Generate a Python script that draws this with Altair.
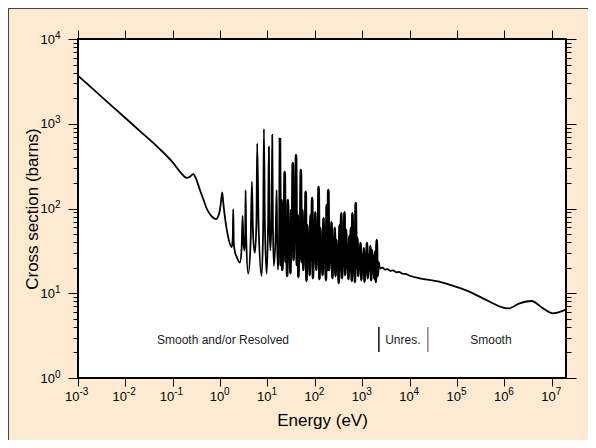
import altair as alt
import pandas as pd

# ---------------- data ----------------
# thermal / low-energy smooth part and first resolved resonances
energy_low = [0.001, 0.002, 0.005, 0.01, 0.02, 0.05, 0.1, 0.15, 0.196, 0.23,
              0.27, 0.31, 0.375, 0.45, 0.52, 0.65, 0.815, 0.92, 0.99, 1.05,
              1.107, 1.16, 1.26, 1.48, 1.75, 1.85, 1.89, 1.94, 2.05, 2.23,
              2.62, 2.85, 2.98, 3.1, 3.26, 3.38, 3.45, 3.55, 3.92, 4.4,
              4.69, 4.95, 5.42, 5.85, 6.06, 6.5, 7.51, 8.1, 8.40, 8.8,
              9.58, 10.3, 10.7, 11.1, 11.5, 12.2, 12.6, 13.0, 13.6, 15.0,
              15.6, 16.0, 16.6, 17.5]
xs_low = [3700, 2610, 1650, 1170, 825, 520, 350, 262, 230, 237,
          255, 225, 165, 125, 100, 82, 75, 82, 96, 125,
          155, 120, 80, 46, 35, 45, 98, 40, 31, 27,
          23, 35, 82, 40, 32, 50, 165, 45, 17, 40,
          207, 50, 30, 70, 588, 60, 16, 60, 868, 70,
          17, 70, 536, 60, 32, 80, 737, 70, 21, 60,
          165, 40, 19, 40]

# dense resolved-resonance region
energy_res = [18.3, 19.0, 19.8, 20.6, 21.4, 22.2, 23.1, 24.0, 25.0, 26.0,
              27.0, 28.1, 29.2, 30.4, 31.6, 32.9, 34.2, 35.5, 37.0, 38.4,
              40.0, 41.6, 43.2, 45.0, 46.8, 48.6, 50.6, 52.6, 54.7, 56.9,
              59.2, 61.5, 64.0, 66.6, 69.2, 72.0, 74.9, 77.9, 81.0, 84.2,
              87.6, 91.1, 94.7, 98.5, 102, 107, 111, 115, 120, 125,
              130, 135, 140, 146, 152, 158, 164, 171, 178, 185,
              192, 200, 208, 216, 225, 234, 243, 253, 263, 273,
              284, 296, 307, 320, 332, 346, 360, 374, 389, 404,
              421, 437, 455, 473, 492, 512, 532, 553, 576, 599,
              623, 647, 673, 700, 728, 758, 788, 819, 852, 886,
              922, 959, 997, 1040, 1080, 1120, 1170, 1210, 1260, 1310,
              1370, 1420, 1480, 1540, 1600, 1660, 1730, 1800, 1870, 1940,
              2020, 2100, 2190]
xs_res = [680, 21.5, 126, 18.8, 56, 32, 270, 23.4, 84, 16,
          126, 28, 48, 17.3, 96, 32, 344, 24.7, 64, 42.5,
          428, 21.5, 84, 15.6, 56, 26, 285, 23.4, 96, 18.8,
          42.5, 28, 157, 14, 64, 23.4, 42.5, 16.4, 84, 24.7,
          133, 15.1, 56, 23.4, 90, 18.8, 42.5, 26, 179, 14.7,
          59, 21.5, 37, 16.4, 77, 23.4, 45, 14.3, 110, 18.8,
          165, 18.8, 53, 23.4, 69, 15.1, 37, 21.5, 59, 16,
          42.5, 20, 31, 13.2, 64, 18.8, 88, 15.1, 37, 21,
          90, 16.4, 56, 20, 34, 14.7, 47, 18.8, 59, 14,
          88, 17.8, 37, 13.6, 116, 20, 45, 16, 32.4, 18.8,
          39, 14.3, 28, 17.8, 34, 13.6, 26, 17.8, 39, 15.1,
          28, 18.8, 36, 14.3, 32.4, 17.8, 27.5, 14.7, 31, 13.6,
          42.5, 16, 23.4]

# unresolved and fast smooth region
energy_high = [2400, 2700, 3000, 3400, 3900, 4500, 5200, 6000, 7000, 8200,
               10100, 16400, 41900, 83400, 186000, 419000, 1.2e6, 2.11e6, 3.73e6,
               6.58e6, 1.07e7, 2.0e7]
xs_high = [19.6, 20.1, 19.0, 19.3, 18.4, 18.6, 17.7, 17.9, 17.0, 16.9,
           16.1, 15.0, 13.7, 12.2, 10.4, 8.3, 6.63, 7.6, 8.1,
           6.63, 5.8, 6.4]

# region annotations
region_names = ["Smooth and/or Resolved", "Unres.", "Smooth"]
region_label_energy = [1.15, 7200, 5.2e5]
region_label_xs = [2.8, 2.8, 2.8]
region_bounds = [2240, 24200]
bound_low = [2.03, 2.03]
bound_high = [4.0, 4.0]

# axes
x_exponents = [-3, -2, -1, 0, 1, 2, 3, 4, 5, 6, 7]
y_exponents = [0, 1, 2, 3, 4]
x_domain = [1e-3, 2e7]
y_domain = [1, 1e4]

# ---------------- tables ----------------
df = pd.DataFrame({
    "E": energy_low + energy_res + energy_high,
    "s": xs_low + xs_res + xs_high,
})
dense_df = pd.DataFrame({"E": energy_res, "s": xs_res})
rules_df = pd.DataFrame({"E": region_bounds, "lo": bound_low, "hi": bound_high})
regions_df = pd.DataFrame({"E": region_label_energy, "s": region_label_xs, "name": region_names})

x_decades = [10.0 ** e for e in x_exponents]
y_major = [10 ** e for e in y_exponents]
y_minor = [m * 10 ** e for e in y_exponents[:-1] for m in range(2, 10)]
xlab = pd.DataFrame({"v": x_decades, "e": [str(e) for e in x_exponents]})
ylab = pd.DataFrame({"v": y_major, "e": [str(e) for e in y_exponents]})

FONT = "Liberation Sans"
xscale = alt.Scale(type="log", domain=x_domain, nice=False)
yscale = alt.Scale(type="log", domain=y_domain, nice=False)

def axis(orient, values, size, **kw):
    return alt.Axis(orient=orient, values=values, labels=False, tickSize=size,
                    tickColor="black", tickWidth=1, domain=False, grid=False, **kw)

line = alt.Chart(df).mark_line(color="black", strokeWidth=1.8, interpolate="monotone").encode(
    x=alt.X("E:Q", scale=xscale, axis=axis(
        "bottom", x_decades, 8, title="Energy (eV)", titleFont=FONT, titleFontSize=17,
        titleFontWeight="normal", titleColor="black", titleX=244, titleY=47,
        titleAlign="center", titleBaseline="alphabetic", titleAngle=0)),
    y=alt.Y("s:Q", scale=yscale, axis=axis(
        "left", y_major, 10, title="Cross section (barns)", titleFont=FONT, titleFontSize=17,
        titleFontWeight="normal", titleColor="black", titleX=-41, titleY=169.5,
        titleAlign="center", titleBaseline="alphabetic", titleAngle=270)),
)

# thicker overdraw of the densely packed resonances (they merge into a black band)
dense = alt.Chart(dense_df).mark_line(color="black", strokeWidth=2.6, interpolate="monotone").encode(
    x=alt.X("E:Q", scale=xscale, axis=None),
    y=alt.Y("s:Q", scale=yscale, axis=None),
)

rules = alt.Chart(rules_df).mark_rule(strokeWidth=1.5).encode(
    x=alt.X("E:Q", scale=xscale, axis=axis("top", x_decades, 9, title=None)),
    y=alt.Y("lo:Q", scale=yscale, axis=axis("right", y_major, 10, title=None)),
    y2="hi:Q",
    color=alt.condition("datum.E > 10000", alt.value("#8a8a8a"), alt.value("#111111")),
)

minor_left = alt.Chart(df).mark_line(opacity=0).encode(
    x=alt.X("E:Q", scale=xscale, axis=None),
    y=alt.Y("s:Q", scale=yscale, axis=axis("left", y_minor, 5, title=None)),
)
minor_right = alt.Chart(df).mark_line(opacity=0).encode(
    x=alt.X("E:Q", scale=xscale, axis=None),
    y=alt.Y("s:Q", scale=yscale, axis=axis("right", y_minor, 5, title=None)),
)

def x_labels(filter_expr, shift):
    base = alt.Chart(xlab).transform_filter(filter_expr)
    ten = base.mark_text(align="right", baseline="alphabetic", font=FONT, fontSize=13,
                         dx=shift, color="black", text="10").encode(
        x=alt.X("v:Q", scale=xscale, axis=None), y=alt.value(361.5))
    ex = base.mark_text(align="left", baseline="alphabetic", font=FONT, fontSize=10,
                        dx=shift, color="black").encode(
        x=alt.X("v:Q", scale=xscale, axis=None), y=alt.value(355.5), text="e:N")
    return [ten, ex]

y_ten = alt.Chart(ylab).mark_text(align="right", baseline="alphabetic", font=FONT, fontSize=13,
                                  dy=4.5, color="black", text="10").encode(
    x=alt.value(-23), y=alt.Y("v:Q", scale=yscale, axis=None))
y_ex = alt.Chart(ylab).mark_text(align="left", baseline="alphabetic", font=FONT, fontSize=10,
                                 dy=-0.5, color="black").encode(
    x=alt.value(-23), y=alt.Y("v:Q", scale=yscale, axis=None), text="e:N")

region_text = alt.Chart(regions_df).mark_text(font=FONT, fontSize=12, color="#222222",
                                              baseline="middle").encode(
    x=alt.X("E:Q", scale=xscale, axis=None),
    y=alt.Y("s:Q", scale=yscale, axis=None),
    text="name:N",
)

one = pd.DataFrame({"a": [0]})
border_left = alt.Chart(one).mark_rule(color="#444444", strokeWidth=1).encode(
    x=alt.value(-69.5), y=alt.value(-31), y2=alt.value(401))
border_top = alt.Chart(one).mark_rule(color="#444444", strokeWidth=1).encode(
    x=alt.value(-70), x2=alt.value(510), y=alt.value(-30.5))

chart = alt.layer(
    line, dense, rules, minor_left, minor_right,
    *x_labels("datum.v < 0.5", 1.5), *x_labels("datum.v > 0.5", 4),
    y_ten, y_ex, region_text, border_left, border_top,
).resolve_axis(x="independent", y="independent").properties(
    width=488, height=339,
    padding={"left": 70, "top": 31, "right": 22, "bottom": 62},
    autosize="none",
).configure(background="#FDEAD0", font=FONT).configure_view(
    fill="white", stroke="black", strokeWidth=2)

chart.save("out.html", embed_options={"renderer": "svg", "actions": False})
